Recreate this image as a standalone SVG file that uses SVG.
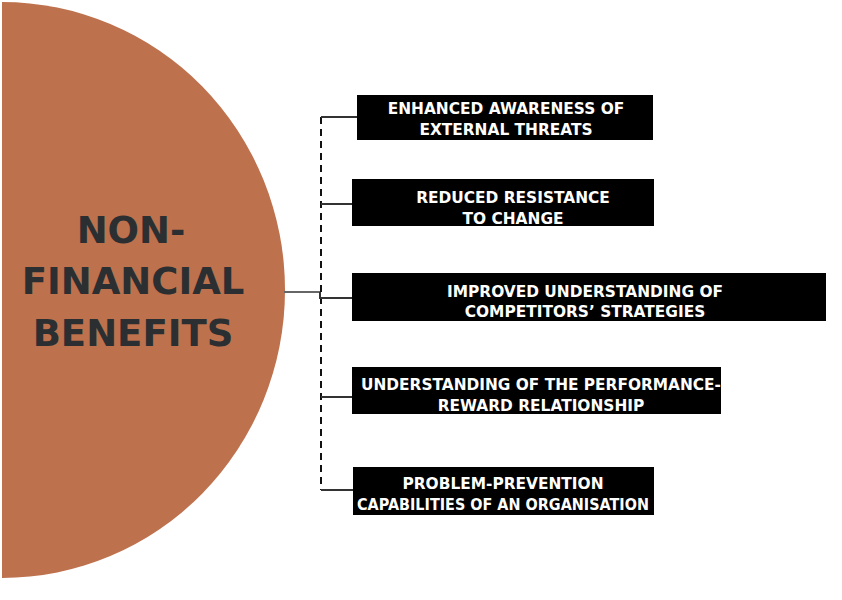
<svg xmlns="http://www.w3.org/2000/svg" width="842" height="600" viewBox="0 0 842 600">
<style>
.box{fill:#000}
.lbl{font-family:"DejaVu Sans","Liberation Sans",sans-serif;font-weight:bold;font-size:15.4px;fill:#fff;text-anchor:middle}
.title{font-family:"DejaVu Sans","Liberation Sans",sans-serif;font-weight:bold;font-size:37px;fill:#2b2f31;text-anchor:middle}
.br{stroke:#333;stroke-width:2;fill:none}
</style>
<rect width="842" height="600" fill="#fff"/>
<g id="hub">
<path d="M2,2 A283,288 0 0 1 2,578 Z" fill="#BE714D"/>
<text class="title" x="131" y="243">NON-</text>
<text class="title" x="133" y="294">FINANCIAL</text>
<text class="title" x="133" y="346">BENEFITS</text>
</g>
<g id="connectors">
<path d="M284,292 H320" stroke="#666" stroke-width="2" fill="none"/>
<path d="M321,117 V490" stroke="#111" stroke-width="2" stroke-dasharray="7,5" fill="none"/>
<path class="br" d="M321,117 H357"/>
<path class="br" d="M321,204 H352"/>
<path class="br" d="M320,292 V298 H352"/>
<path class="br" d="M321,397 H352"/>
<path class="br" d="M321,490 H353"/>
</g>
<g id="n1">
<rect class="box" x="357" y="95" width="296" height="45"/>
<text class="lbl" x="506" y="114">ENHANCED AWARENESS OF</text>
<text class="lbl" x="506" y="135">EXTERNAL THREATS</text>
</g>
<g id="n2">
<rect class="box" x="352" y="179" width="302" height="47"/>
<text class="lbl" x="513" y="203">REDUCED RESISTANCE</text>
<text class="lbl" x="513" y="224">TO CHANGE</text>
</g>
<g id="n3">
<rect class="box" x="352" y="273" width="474" height="48"/>
<text class="lbl" x="585" y="297">IMPROVED UNDERSTANDING OF</text>
<text class="lbl" x="585" y="317">COMPETITORS’ STRATEGIES</text>
</g>
<g id="n4">
<rect class="box" x="352" y="367" width="369" height="47"/>
<text class="lbl" x="541" y="390" textLength="360" lengthAdjust="spacingAndGlyphs">UNDERSTANDING OF THE PERFORMANCE-</text>
<text class="lbl" x="541" y="411">REWARD RELATIONSHIP</text>
</g>
<g id="n5">
<rect class="box" x="353" y="467" width="301" height="48"/>
<text class="lbl" x="503" y="489">PROBLEM-PREVENTION</text>
<text class="lbl" x="503" y="510" textLength="292" lengthAdjust="spacingAndGlyphs">CAPABILITIES OF AN ORGANISATION</text>
</g>
</svg>
